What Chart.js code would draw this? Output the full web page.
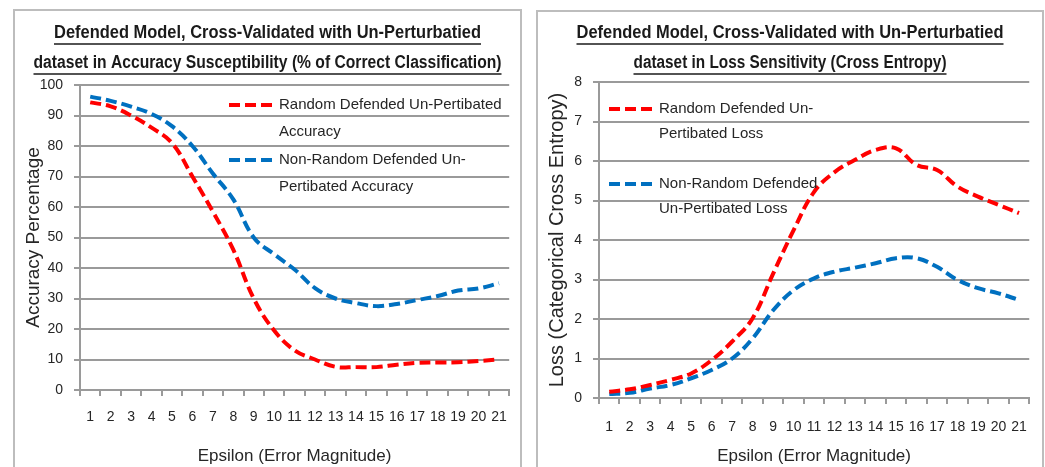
<!DOCTYPE html>
<html>
<head>
<meta charset="utf-8">
<script src="https://cdn.jsdelivr.net/npm/chart.js@4"></script>
<style>
  body { margin: 0; background: #fff; width: 1045px; height: 467px; overflow: hidden; position: relative; }
  .panel { position: absolute; border: 2px solid #bdbdbd; border-bottom: none; box-sizing: border-box; }
  canvas { position: absolute; }
</style>
</head>
<body>
<div class="panel" style="left:13px; top:9px; width:509px; height:470px;"></div>
<div class="panel" style="left:536px; top:10px; width:508px; height:470px;"></div>
<canvas id="acc-chart" style="left:15px; top:11px;" width="505" height="456"></canvas>
<canvas id="loss-chart" style="left:538px; top:12px;" width="504" height="455"></canvas>
<script>
/**
 * Data
 */
const epsilon = ['1','2','3','4','5','6','7','8','9','10','11','12','13','14','15','16','17','18','19','20','21'];

const accRandom = [94.3, 93, 90, 86, 81, 70, 58.5, 46, 30, 19.5, 13, 10, 7.6, 7.5, 7.5, 8.3, 8.9, 9, 9.1, 9.5, 10];
const accNonRandom = [96.2, 94.8, 92.9, 90.5, 86.5, 80, 71, 62.5, 50, 44.5, 39.5, 33.4, 30, 28.5, 27.5, 28.2, 29.5, 30.8, 32.6, 33.3, 35];

const lossRandom = [0.16, 0.22, 0.33, 0.46, 0.62, 0.96, 1.43, 2.02, 3.15, 4.25, 5.22, 5.72, 6.03, 6.28, 6.32, 5.9, 5.77, 5.35, 5.1, 4.89, 4.68];
const lossNonRandom = [0.1, 0.13, 0.24, 0.33, 0.5, 0.71, 1.0, 1.51, 2.22, 2.73, 3.03, 3.2, 3.3, 3.41, 3.54, 3.54, 3.32, 2.99, 2.78, 2.65, 2.48];

const accTitle = ['Defended Model, Cross-Validated with Un-Perturbatied', 'dataset in Accuracy Susceptibility (% of Correct Classification)'];
const lossTitle = ['Defended Model, Cross-Validated with Un-Perturbatied', 'dataset in Loss Sensitivity (Cross Entropy)'];

const accLegend = [['Random Defended Un-Pertibated', 'Accuracy'], ['Non-Random Defended Un-', 'Pertibated Accuracy']];
const lossLegend = [['Random Defended Un-', 'Pertibated Loss'], ['Non-Random Defended', 'Un-Pertibated Loss']];

const RED = '#ff0000';
const BLUE = '#0070c0';
const GRID = '#9a9a9a';
const TEXT = '#262626';
const FONT = '"Liberation Sans", Arial, sans-serif';

/**
 * Draws the underlined bold title at the top of the canvas
 * (Calibri-like look: bold text squeezed horizontally to the reference widths)
 */
const underlinedTitle = {
    id: 'underlinedTitle',
    afterDraw(chart, args, opts) {
        const ctx = chart.ctx;
        const cx = chart.width / 2;
        ctx.save();
        ctx.font = `bold 18px ${FONT}`;
        ctx.fillStyle = '#1a1a1a';
        ctx.strokeStyle = '#1a1a1a';
        ctx.lineWidth = 1.3;
        ctx.textAlign = 'center';
        ctx.textBaseline = 'middle';
        opts.lines.forEach((line, i) => {
            const y = opts.y + i * 30;
            const w = opts.widths[i];
            const squeeze = w / ctx.measureText(line).width;
            ctx.save();
            ctx.translate(cx, y);
            ctx.scale(squeeze, 1);
            ctx.fillText(line, 0, 0);
            ctx.restore();
            ctx.beginPath();
            ctx.moveTo(cx - w / 2, y + 11);
            ctx.lineTo(cx + w / 2, y + 11);
            ctx.stroke();
        });
        ctx.restore();
    }
};

/**
 * Legend drawn inside the plot area, two lines per entry
 */
const innerLegend = {
    id: 'innerLegend',
    afterDraw(chart, args, opts) {
        const ctx = chart.ctx;
        const area = chart.chartArea;
        ctx.save();
        ctx.font = `15px ${FONT}`;
        ctx.textBaseline = 'middle';
        chart.data.datasets.forEach((ds, i) => {
            const x = area.left + opts.dx;
            const y = area.top + opts.dy + i * opts.itemGap;
            ctx.strokeStyle = ds.borderColor;
            ctx.lineWidth = 4;
            ctx.setLineDash([11, 5]);
            ctx.beginPath();
            ctx.moveTo(x, y);
            ctx.lineTo(x + 43, y);
            ctx.stroke();
            ctx.setLineDash([]);
            ctx.fillStyle = TEXT;
            opts.labels[i].forEach((line, j) => {
                ctx.fillText(line, x + 50, y + j * opts.lineGap);
            });
        });
        ctx.restore();
    }
};

function makeSeries(label, values, color) {
    return {
        label: label,
        data: values,
        borderColor: color,
        backgroundColor: color,
        borderWidth: 4,
        borderDash: [11, 5],
        pointRadius: 0,
        tension: 0.4,
        fill: false
    };
}

function makeChart(id, cfg) {
    return new Chart(document.getElementById(id), {
        type: 'line',
        data: {
            labels: epsilon,
            datasets: [
                makeSeries(cfg.legend[0].join(' '), cfg.series[0], RED),
                makeSeries(cfg.legend[1].join(' '), cfg.series[1], BLUE)
            ]
        },
        options: {
            responsive: false,
            animation: false,
            layout: { padding: { top: cfg.top, right: cfg.right, left: 0, bottom: 0 } },
            plugins: {
                legend: { display: false },
                title: { display: false },
                tooltip: { enabled: false },
                underlinedTitle: { lines: cfg.title, y: cfg.titleY, widths: cfg.titleWidths },
                innerLegend: cfg.legendPos
            },
            scales: {
                x: {
                    offset: true,
                    grid: { offset: true, drawOnChartArea: false, drawTicks: true, tickLength: 6, color: GRID, lineWidth: 2 },
                    border: { color: GRID, width: 2 },
                    ticks: { color: TEXT, font: { family: FONT, size: 14 }, padding: cfg.xPad, maxRotation: 0, autoSkip: false },
                    title: { display: true, text: 'Epsilon (Error Magnitude)', color: TEXT, font: { family: FONT, size: 17 }, padding: { top: 0, bottom: 0 } },
                    afterFit(scale) { scale.height = cfg.xHeight; }
                },
                y: {
                    min: 0,
                    max: cfg.max,
                    ticks: { stepSize: cfg.step, color: TEXT, font: { family: FONT, size: 14 }, padding: 11 },
                    grid: { color: GRID, lineWidth: 2, tickLength: 6 },
                    border: { color: GRID, width: 2 },
                    title: { display: true, text: cfg.yTitle, color: TEXT, font: { family: FONT, size: cfg.yTitleSize }, padding: { top: 7, bottom: 0 } },
                    afterFit(scale) { scale.width = cfg.yWidth; }
                }
            }
        },
        plugins: [underlinedTitle, innerLegend]
    });
}

const accChart = makeChart('acc-chart', {
    series: [accRandom, accNonRandom],
    legend: accLegend,
    title: accTitle,
    titleY: 22,
    titleWidths: [427, 468],
    top: 74, right: 10,
    xHeight: 77, xPad: 13,
    yWidth: 65,
    max: 100, step: 10,
    yTitle: 'Accuracy Percentage', yTitleSize: 19,
    legendPos: { labels: accLegend, dx: 149, dy: 20, itemGap: 55, lineGap: 27 }
});

const lossChart = makeChart('loss-chart', {
    series: [lossRandom, lossNonRandom],
    legend: lossLegend,
    title: lossTitle,
    titleY: 21,
    titleWidths: [427, 313],
    top: 70, right: 9,
    xHeight: 69, xPad: 15,
    yWidth: 61,
    max: 8, step: 1,
    yTitle: 'Loss (Categorical Cross Entropy)', yTitleSize: 20,
    legendPos: { labels: lossLegend, dx: 10, dy: 27, itemGap: 75, lineGap: 25 }
});
</script>
</body>
</html>
